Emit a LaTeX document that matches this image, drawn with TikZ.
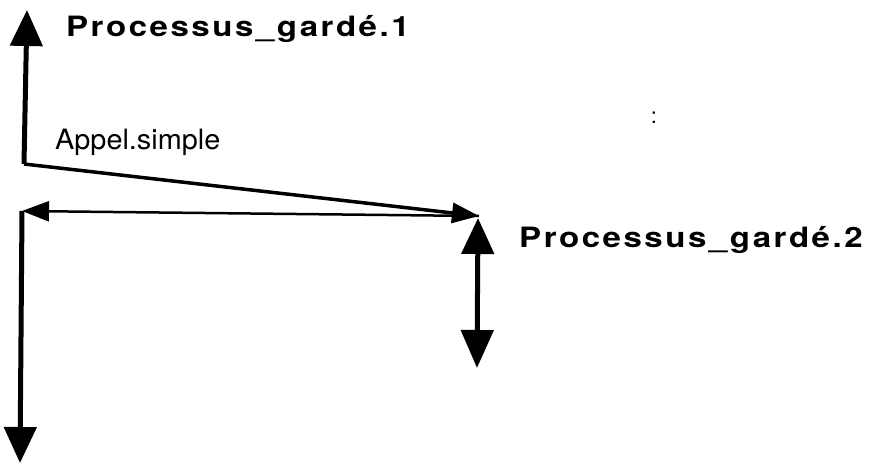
\documentclass[tikz,border=0pt]{standalone}
\usepackage{fontspec}
\setmainfont{TeX Gyre Heros}
\newfontfamily\procfont[FakeStretch=1.18,LetterSpace=9]{TeX Gyre Heros}
\newfontfamily\callfont[FakeStretch=1.03]{TeX Gyre Heros}
\usetikzlibrary{arrows.meta}
\begin{document}
\begin{tikzpicture}[x=1pt,y=-1pt,
  proclabel/.style={inner sep=0pt,anchor=base west,font=\procfont\bfseries\fontsize{28}{30}\selectfont},
  calllabel/.style={inner sep=0pt,anchor=base west,font=\callfont\fontsize{28}{30}\selectfont},
  bigtip/.style={-{Triangle[length=36pt,width=32pt]}},
  smalltip/.style={-{Triangle[length=27pt,width=20pt]}},
  thickline/.style={line width=5pt},
  midline/.style={line width=3.5pt},
  thinline/.style={line width=2.5pt}]
  \useasboundingbox (0,0) rectangle (876,465);

  % anchor points of the message lines
  \coordinate (corner1) at (24,164);
  \coordinate (tip1) at (27,10);
  \coordinate (meet) at (479,216);
  \coordinate (corner2) at (22,211);
  \coordinate (tip2) at (20,463);
  \coordinate (up2) at (478,218);
  \coordinate (down2) at (477,368);

  % labels
  \node[proclabel] (p1) at (66,37) {Processus\_gardé.1};
  \node[proclabel] (p2) at (519,248) {Processus\_gardé.2};
  \node[calllabel] (call) at (55,150) {Appel.simple};
  \node[inner sep=0pt,font=\fontsize{22}{24}\selectfont] (colon) at (654,118) {:};

  % lifeline of the first process and the call
  \draw[thickline,bigtip] (corner1) -- (tip1);
  \draw[midline,smalltip] (corner1) -- (meet);
  % return to the caller and its continuation
  \draw[thinline,smalltip] (meet) -- (corner2);
  \draw[thickline,bigtip] (corner2) -- (tip2);
  % lifeline of the second process
  \draw[thickline,{Triangle[length=36pt,width=32pt]}-{Triangle[length=38pt,width=32pt]}] (up2) -- (down2);
\end{tikzpicture}
\end{document}
